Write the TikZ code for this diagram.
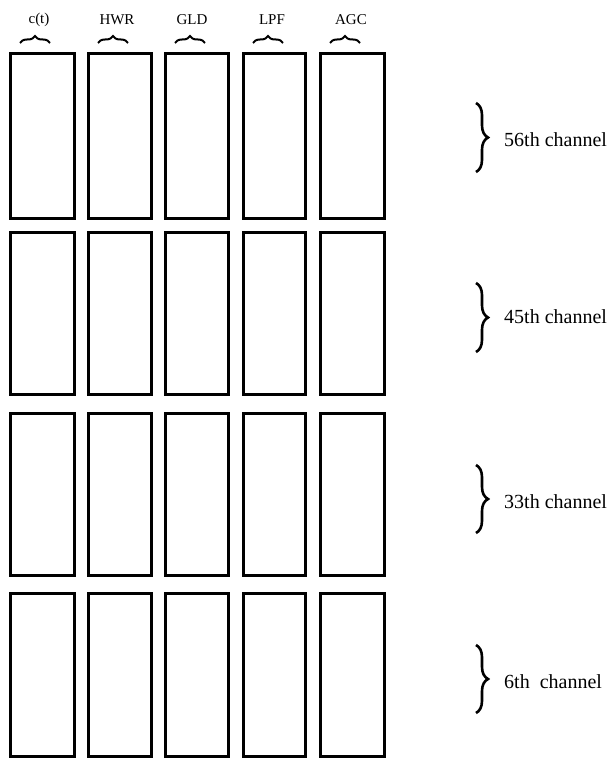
\documentclass[tikz,border=0pt]{standalone}
\usepackage{fontspec}
\setmainfont{Liberation Serif}
\usetikzlibrary{decorations.pathreplacing}
\begin{document}
\begin{tikzpicture}[x=1pt,y=-1pt,
  cell/.style={draw=black, line width=3pt, minimum width=64pt, inner sep=0pt},
  topbrace/.style={decorate, decoration={brace, amplitude=7pt}, line width=2pt},
  sidebrace/.style={decorate, decoration={brace, amplitude=12pt}, line width=2.6pt},
  toplabel/.style={font=\fontsize{15}{17}\selectfont, inner sep=0pt},
  chlabel/.style={font=\fontsize{20}{23}\selectfont, anchor=west, inner sep=0pt}]
\useasboundingbox (0,0) rectangle (610,760);
% columns
\def\colL{{9,87,164,242,319}}
\def\colR{{76,153,230,307,386}}
\def\rowT{{52,231,412,592}}
\def\rowB{{220,396,577,758}}
\foreach \r in {0,1,2,3}{
  \foreach \c in {0,1,2,3,4}{
    \pgfmathsetmacro{\xl}{\colL[\c]}
    \pgfmathsetmacro{\xr}{\colR[\c]}
    \pgfmathsetmacro{\yt}{\rowT[\r]}
    \pgfmathsetmacro{\yb}{\rowB[\r]}
    \pgfmathsetmacro{\w}{\xr-\xl-3}
    \pgfmathsetmacro{\h}{\yb-\yt-3}
    \node[cell, minimum width=\w pt, minimum height=\h pt] (b\r\c) at ({(\xl+\xr)/2},{(\yt+\yb)/2}) {};
  }
}
% top labels and braces
\foreach \c/\t/\lx/\bx in {0/c(t)/39/35, 1/HWR/117/113, 2/GLD/192/190, 3/LPF/272/268, 4/AGC/351/345}{
  \node[toplabel] (lab\c) at (\lx,20) {\t};
  \coordinate (bl\c) at (\bx-15,43);
  \coordinate (br\c) at (\bx+15,43);
  \draw[topbrace] (bl\c) -- (br\c);
}
% side braces and channel labels
\foreach \i/\t/\ya/\yb/\yt in {0/56th channel/103/172/140, 1/45th channel/283/352/317, 2/33th channel/465/533/502, 3/6th\ \ channel/645/713/682}{
  \coordinate (st\i) at (476,\ya);
  \coordinate (sb\i) at (476,\yb);
  \draw[sidebrace] (st\i) -- (sb\i);
  \node[chlabel] (ch\i) at (504,\yt) {\t};
}
\end{tikzpicture}
\end{document}
